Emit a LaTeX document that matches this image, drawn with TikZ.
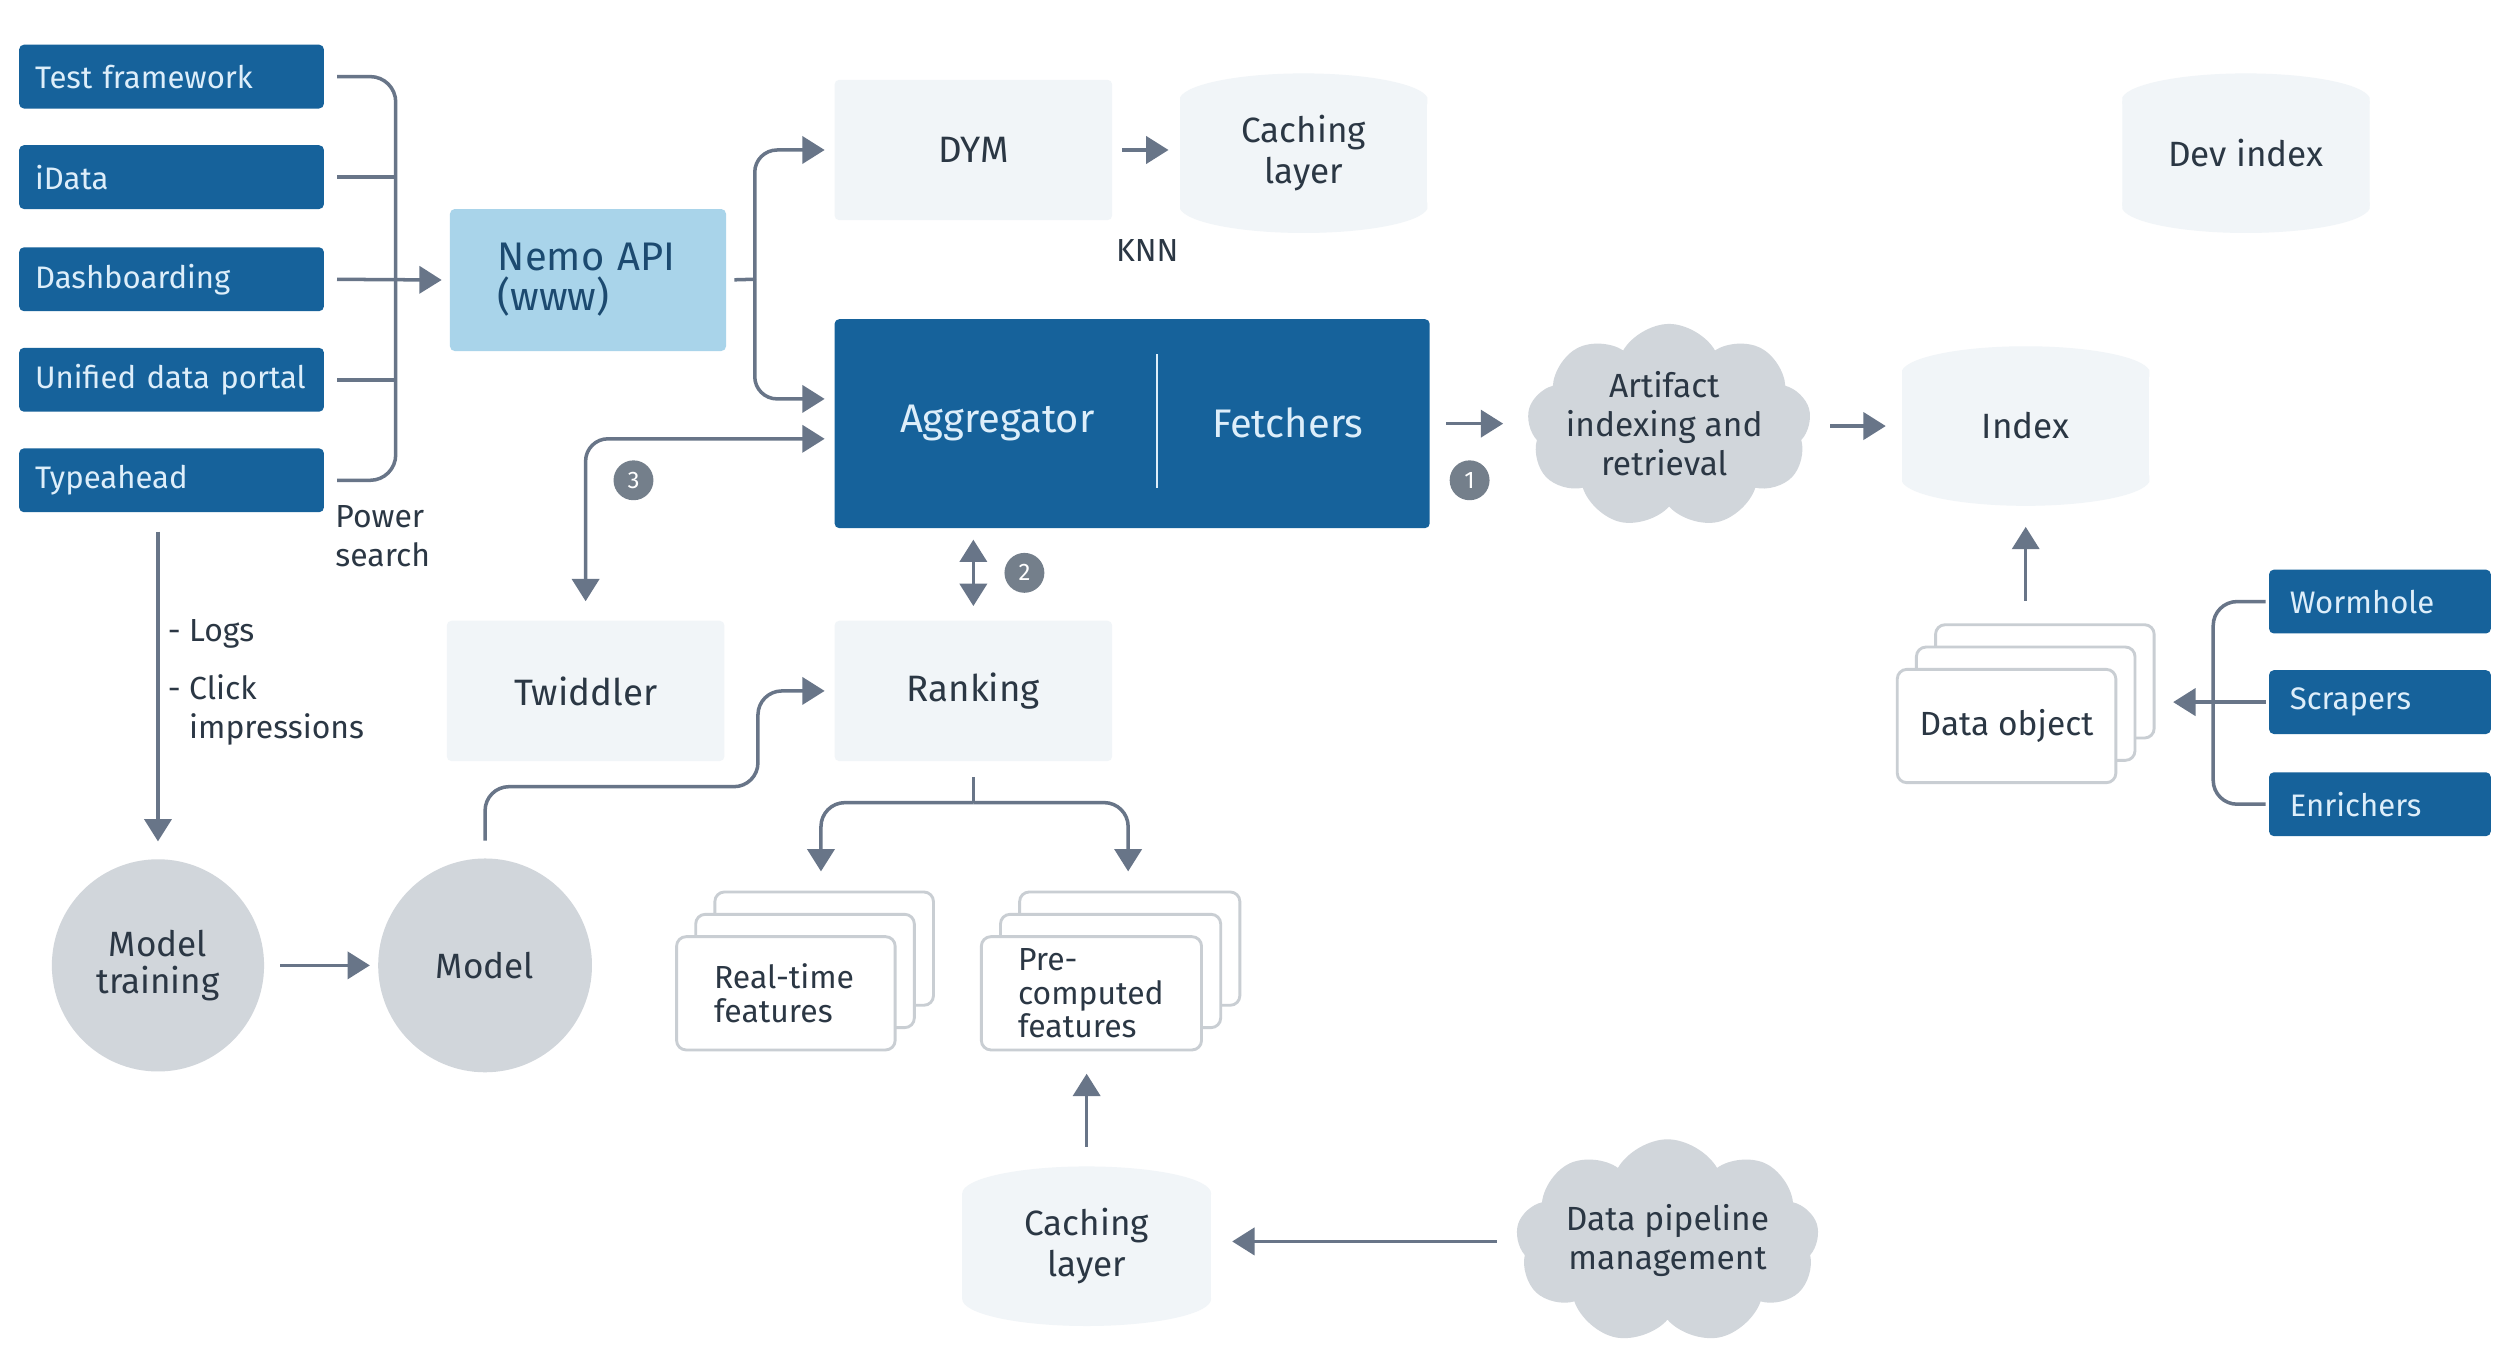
\documentclass[tikz,border=0pt]{standalone}
\usepackage{fontspec}
\setmainfont{Fira Sans}
\usetikzlibrary{arrows.meta,positioning,calc,shapes.geometric,shapes.symbols,shadows}
\definecolor{fbblue}{HTML}{16629B}
\definecolor{fbtext}{HTML}{DDEEFA}
\definecolor{nemoblue}{HTML}{A9D4EA}
\definecolor{nemotext}{HTML}{1C4A70}
\definecolor{lightbg}{HTML}{F1F5F8}
\definecolor{puffgray}{HTML}{D1D6DB}
\definecolor{ink}{HTML}{2B3744}
\definecolor{wirec}{HTML}{687588}
\definecolor{stackline}{HTML}{C9CED3}
\definecolor{badgegray}{HTML}{747F8B}
\tikzset{
srcbox/.style   = {fill=fbblue, text=fbtext, rectangle, rounded corners=3pt, minimum height=40pt, text width=171pt, inner xsep=10pt, align=left, font=\fontsize{19.5}{24}\selectfont},
lightbox/.style = {fill=lightbg, text=ink, rectangle, rounded corners=3pt, minimum width=174pt, minimum height=88pt, font=\fontsize{23}{26}\selectfont},
store/.style    = {rectangle, minimum width=155pt, minimum height=100pt, text=ink, align=center, font=\fontsize{22}{26}\selectfont,
  path picture={
    \fill[lightbg] ([yshift=-17pt]path picture bounding box.north) ellipse [x radius=78pt, y radius=17pt];
    \fill[lightbg] ([yshift=17pt]path picture bounding box.south) ellipse [x radius=78pt, y radius=17pt];
    \fill[lightbg] ([yshift=-17pt]path picture bounding box.north west) rectangle ([yshift=17pt]path picture bounding box.south east);
  }},
puff/.style     = {cloud, cloud puffs=9, cloud puff arc=120, fill=puffgray, inner sep=0pt},
pufftext/.style = {text=ink, align=center, font=\fontsize{21}{24.5}\selectfont},
disc/.style     = {circle, fill=puffgray, text=ink, minimum size=134pt, align=center, font=\fontsize{22}{23}\selectfont},
stack/.style    = {rectangle, rounded corners=6pt, draw=stackline, line width=1.8pt, fill=white, double copy shadow={shadow xshift=12pt, shadow yshift=14pt}, minimum width=137pt, minimum height=71pt, text=ink, font=\fontsize{20}{21}\selectfont},
badge/.style    = {circle, fill=badgegray, text=white, minimum size=25pt, inner sep=0pt, font=\fontsize{15}{15}\selectfont},
note/.style     = {text=ink, align=left, inner sep=0pt, font=\fontsize{20}{24}\selectfont},
link/.style     = {draw=wirec, line width=2.2pt},
}
\begin{document}
\begin{tikzpicture}[x=1pt, y=-1pt, >={Triangle[length=14pt,width=17pt]}]
  \fill[white] (0,0) rectangle (1568,856);
  \useasboundingbox (0,0) rectangle (1568,856);

  % callers on the left
  \node [srcbox] (tf)    at (107.5,48)  {Test framework};
  \node [srcbox] (idata) at (107.5,111) {iData};
  \node [srcbox] (dash)  at (107.5,175) {Dashboarding};
  \node [srcbox] (udp)   at (107.5,238) {\mbox{Unified data portal}};
  \node [srcbox] (ty)    at (107.5,301) {Typeahead};
  \node [note, anchor=west] (power) at (210,336) {Power\\search};

  \node [fill=nemoblue, text=nemotext, rounded corners=3pt, minimum height=89pt, text width=113pt, inner xsep=30pt, align=left, font=\fontsize{25}{25}\selectfont] (nemo) at (368.5,175.5) {Nemo API\\(www)};

  % top row
  \node [lightbox] (dym)    at (610,94)    {DYM};
  \node [store]    (cache1) at (817,96)    {Caching\\layer};
  \node [note]     (knn)    at (719,157)   {KNN};
  \node [store]    (devidx) at (1407.5,96) {Dev index};

  % aggregator and fetchers
  \node [fill=fbblue, rounded corners=3pt, minimum width=373pt, minimum height=131pt] (core) at (709.5,265.5) {};
  \node [text=fbtext, font=\fontsize{25}{25}\selectfont] (agg)   at (625,265) {Aggregator};
  \node [text=fbtext, font=\fontsize{25}{25}\selectfont] (fetch) at (807,265) {Fetchers};
  \draw [fbtext, line width=1.5pt] (725,222) -- (725,306);

  \node [puff, minimum width=178pt, minimum height=128pt] (artifact) at (1046,267) {};
  \node [pufftext] (artifacttxt) at (1043,265.5) {Artifact\\indexing and\\retrieval};
  \node [store] (index) at (1269.5,267) {Index};

  % data objects
  \node [stack, font=\fontsize{21}{21}\selectfont] (dataobj) at (1257.5,455) {Data object};
  \node [srcbox, text width=113pt, inner xsep=13pt] (worm)   at (1491.5,377) {Wormhole};
  \node [srcbox, text width=113pt, inner xsep=13pt] (scrap)  at (1491.5,440) {Scrapers};
  \node [srcbox, text width=113pt, inner xsep=13pt] (enrich) at (1491.5,504) {Enrichers};

  % ranking
  \node [lightbox] (twid) at (367,433) {Twiddler};
  \node [lightbox] (rank) at (610,433) {Ranking};
  \node [stack, text width=90pt, inner xsep=23.5pt, align=left] (rtf) at (492.5,622.5) {Real-time\\features};
  \node [stack, text width=92pt, inner xsep=23pt, align=left]   (pcf) at (684,622.5)   {Pre-\\computed\\features};
  \node [store, minimum width=156pt] (cache2) at (681,781) {Caching\\layer};
  \node [puff, minimum width=190pt, minimum height=128pt] (pipe) at (1045,778) {};
  \node [pufftext] (pipetxt) at (1045,777.5) {Data pipeline\\management};

  % models
  \node [disc, minimum size=133pt] (mtrain) at (99,605)  {Model\\training};
  \node [disc]                     (model)  at (304,605) {Model};
  \node [note, anchor=west] (logs)  at (105,397) {- Logs};
  \node [note, anchor=west] (click) at (105,445) {- Click\\\hphantom{- }impressions};

  \node [badge] (b1) at (921,301) {1};
  \node [badge] (b2) at (642,359) {2};
  \node [badge] (b3) at (397,301) {3};

  \coordinate (lbus)  at (248,175);
  \coordinate (rbus)  at (473,175);
  \coordinate (dbus)  at (1387,440);
  \coordinate (mbend) at (475,493);
  \coordinate (split) at (610,503);

  % left bracket
  \draw [link, rounded corners=16pt] ([xshift=8pt]tf.east) -| (lbus) |- ([xshift=8pt]ty.east);
  \draw [link] ([xshift=8pt]idata.east) -- (idata.east -| lbus);
  \draw [link] ([xshift=8pt]udp.east) -- (udp.east -| lbus);
  \draw [link, ->, shorten <=8pt, shorten >=5pt] (dash.east) -- (nemo.west);

  % nemo fan out
  \draw [link, shorten <=5pt] (nemo.east) -- (rbus);
  \draw [link, ->, rounded corners=14pt, shorten >=6pt] (rbus) |- (dym.west);
  \draw [link, ->, rounded corners=14pt, shorten >=6pt] (rbus) |- ([yshift=15.5pt]core.west);
  \draw [link, ->, shorten <=6pt, shorten >=7pt] (dym.east) -- (dym.east -| cache1.west);

  \draw [link, <->, rounded corners=14pt, shorten <=6pt, shorten >=12pt] ([yshift=-9.5pt]core.west) -| (twid.north);
  \draw [link, <->, shorten <=7pt, shorten >=9pt] (rank.north |- core.south) -- (rank.north);
  \draw [link, ->, shorten <=10pt, shorten >=16pt] (core.east) -- (core.east -| artifact.west);
  \draw [link, ->, shorten <=13pt, shorten >=10pt] (artifact.east) -- (artifact.east -| index.west);

  % data object side
  \draw [link, ->, shorten <=14pt, shorten >=13pt] ([xshift=12pt,yshift=28pt]dataobj.north) -- (index.south);
  \draw [link, rounded corners=15pt, shorten <=2pt, shorten >=2pt] (worm.west) -| (dbus) |- (enrich.west);
  \draw [link, ->, shorten <=2pt, shorten >=11pt] (scrap.west) -- ([xshift=24pt]dataobj.east |- scrap.west);

  % ranking side
  \draw [link, ->, rounded corners=15pt, shorten >=6pt] ([yshift=11pt]model.north) |- (mbend) |- (rank.west);
  \draw [link, shorten <=10pt] (rank.south) -- (split);
  \draw [link, ->, rounded corners=15pt, shorten >=12pt] (split) -| ([xshift=22pt,yshift=28pt]rtf.north);
  \draw [link, ->, rounded corners=15pt, shorten >=12pt] (split) -| ([xshift=23pt,yshift=28pt]pcf.north);
  \draw [link, ->, shorten <=12pt, shorten >=14pt] (cache2.north) -- (cache2.north |- pcf.south);
  \draw [link, ->, shorten <=13pt, shorten >=13pt] (pipe.west) -- (pipe.west -| cache2.east);

  % training
  \draw [link, ->, shorten <=12pt, shorten >=11pt] (ty.south -| mtrain.north) -- (mtrain.north);
  \draw [link, ->, shorten <=10pt, shorten >=5pt] (mtrain.east) -- (model.west);
\end{tikzpicture}
\end{document}
